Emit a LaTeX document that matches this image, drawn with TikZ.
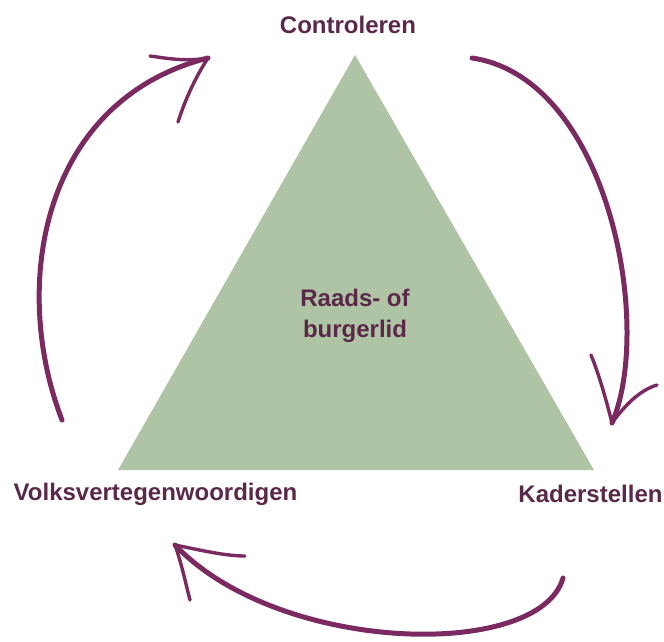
\documentclass[tikz,border=0pt]{standalone}
\usepackage{fontspec}
\setmainfont{Liberation Sans}
\definecolor{plum}{HTML}{7A2A60}
\definecolor{labeltext}{HTML}{5A2848}
\definecolor{sage}{HTML}{AFC4A4}
\tikzset{
  lbl/.style={font=\fontsize{24pt}{29pt}\selectfont\bfseries, text=labeltext, inner sep=0pt},
  stroke/.style={draw=plum, line width=5pt, line cap=round},
  barb/.style={draw=plum, line width=3.4pt, line cap=round}
}
\begin{document}
\begin{tikzpicture}[x=1pt,y=-1pt]
\useasboundingbox (0,0) rectangle (664,641);
% triangle
\coordinate (apex) at (355,55);
\coordinate (bl) at (118,470);
\coordinate (br) at (594,470);
\fill[sage] (apex) -- (bl) -- (br) -- cycle;
% labels
\node[lbl] (top) at (348,25) {Controleren};
\node[lbl] (left) at (155.5,494) {Volksvertegenwoordigen};
\node[lbl] (right) at (590.5,494) {Kaderstellen};
\node[lbl, align=center, font=\fontsize{24pt}{31pt}\selectfont\bfseries] (center) at (355,316) {Raads- of\\burgerlid};
% left arrow
\coordinate (la) at (62,420);
\coordinate (lb) at (208,58);
\coordinate (lb1) at (150,56);
\coordinate (lb2) at (178,122);
\draw[stroke] (la) .. controls (10,285) and (42,100) .. (lb);
\draw[barb] (lb) .. controls (185,62) and (165,58) .. (lb1);
\draw[barb] (lb) .. controls (195,78) and (185,100) .. (lb2);
% right arrow
\coordinate (ra) at (472,58);
\coordinate (rb) at (612,423);
\coordinate (rb1) at (591,355);
\coordinate (rb2) at (657,385);
\draw[stroke] (ra) .. controls (608,78) and (654,325) .. (rb);
\draw[barb] (rb) .. controls (605,395) and (598,372) .. (rb1);
\draw[barb] (rb) .. controls (625,405) and (640,390) .. (rb2);
% bottom arrow
\coordinate (ba) at (563,578);
\coordinate (bb) at (175,545);
\coordinate (bb1) at (245,556);
\coordinate (bb2) at (190,600);
\draw[stroke] (ba) .. controls (540,660) and (280,655) .. (bb);
\draw[barb] (bb) .. controls (200,550) and (225,556) .. (bb1);
\draw[barb] (bb) .. controls (182,565) and (186,585) .. (bb2);
\end{tikzpicture}
\end{document}
